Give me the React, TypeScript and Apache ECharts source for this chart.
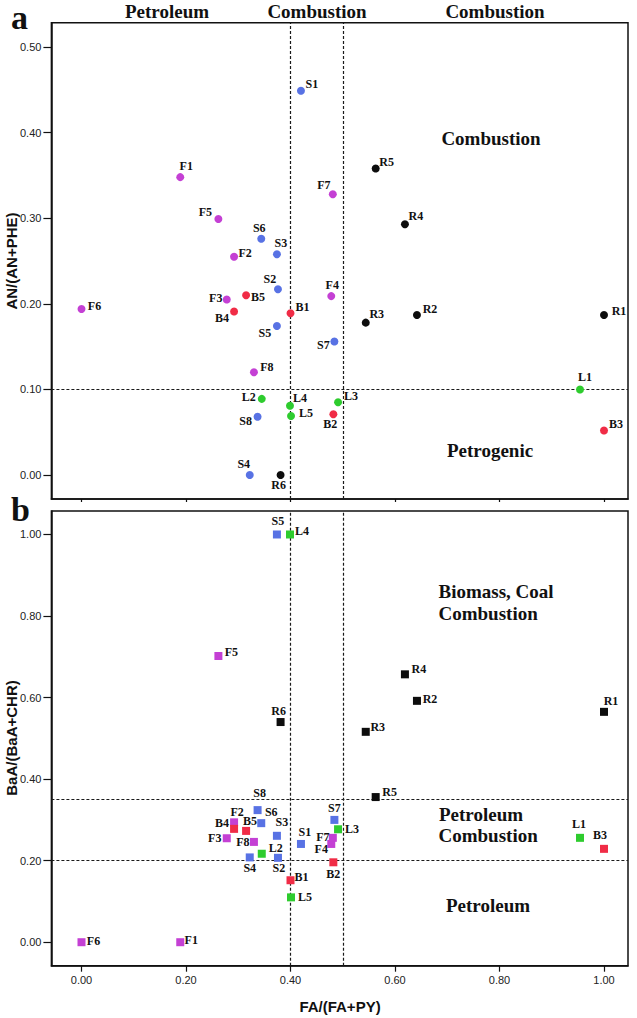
import React, { useEffect, useRef } from 'react';
import * as echarts from 'echarts';

// ---------- data ----------
const sNames = ['S1', 'S2', 'S3', 'S4', 'S5', 'S6', 'S7', 'S8'];
const sFA = [0.42, 0.376, 0.374, 0.322, 0.374, 0.344, 0.484, 0.337];
const sAN = [0.449, 0.217, 0.258, 0.0, 0.174, 0.276, 0.156, 0.068];
const sBaA = [0.241, 0.207, 0.261, 0.208, 1.0, 0.292, 0.3, 0.324];

const fNames = ['F1', 'F2', 'F3', 'F4', 'F5', 'F6', 'F7', 'F8'];
const fFA = [0.189, 0.292, 0.278, 0.478, 0.262, 0.0, 0.481, 0.33];
const fAN = [0.348, 0.255, 0.205, 0.209, 0.299, 0.194, 0.328, 0.12];
const fBaA = [0.0, 0.294, 0.255, 0.241, 0.702, 0.0, 0.256, 0.246];

const bNames = ['B1', 'B2', 'B3', 'B4', 'B5'];
const bFA = [0.4, 0.482, 1.0, 0.292, 0.315];
const bAN = [0.189, 0.071, 0.052, 0.191, 0.21];
const bBaA = [0.152, 0.196, 0.229, 0.278, 0.273];

const rNames = ['R1', 'R2', 'R3', 'R4', 'R5', 'R6'];
const rFA = [1.0, 0.642, 0.544, 0.619, 0.563, 0.381];
const rAN = [0.187, 0.187, 0.178, 0.293, 0.358, 0.0];
const rBaA = [0.565, 0.592, 0.516, 0.657, 0.356, 0.54];

const lNames = ['L1', 'L2', 'L3', 'L4', 'L5'];
const lFA = [0.954, 0.345, 0.491, 0.399, 0.401];
const lAN = [0.1, 0.089, 0.085, 0.081, 0.069];
const lBaA = [0.256, 0.217, 0.277, 1.0, 0.11];

const xTicks = [0, 0.2, 0.4, 0.6, 0.8, 1.0];
const yTicksA = [0, 0.1, 0.2, 0.3, 0.4, 0.5];
const yTicksB = [0, 0.2, 0.4, 0.6, 0.8, 1.0];

const vLines = [0.4, 0.5];
const hLinesA = [0.1];
const hLinesB = [0.35, 0.2];

// ---------- label placement (pixel offsets of label centre from the point) ----------
const labelOffA: Record<string, [number, number]> = {
  S1: [11, -7], S2: [-8, -10], S3: [4, -11], S4: [-6, -11], S5: [-12, 7], S6: [-2, -11], S7: [-11, 4], S8: [-12, 4],
  F1: [6, -11], F2: [11, -4], F3: [-11, -2], F4: [1, -11], F5: [-13, -7], F6: [13, -3], F7: [-9, -9], F8: [13, -5],
  B1: [12, -6], B2: [-3, 10], B3: [12, -7], B4: [-12, 6], B5: [12, 2],
  R1: [15, -4], R2: [13, -6], R3: [11, -9], R4: [11, -8], R5: [11, -7], R6: [-2, 10],
  L1: [5, -12], L2: [-13, -2], L3: [13, -6], L4: [10, -8], L5: [15, -3],
};
const labelOffB: Record<string, [number, number]> = {
  S1: [4, -12], S2: [1, 10], S3: [5, -14], S4: [0, 11], S5: [1, -13], S6: [10, -11], S7: [0, -12], S8: [2, -17],
  F1: [11, -2], F2: [3, -10], F3: [-12, 0], F4: [-10, 5], F5: [13, -4], F6: [12, -1], F7: [-10, -1], F8: [-11, 0],
  B1: [11, -3], B2: [0, 12], B3: [-4, -14], B4: [-12, -6], B5: [4, -10],
  R1: [7, -11], R2: [13, -2], R3: [12, -5], R4: [14, -5], R5: [14, -5], R6: [-2, -11],
  L1: [-1, -14], L2: [14, -6], L3: [14, 0], L4: [12, -3], L5: [14, 0],
};

const COLORS = { S: '#5872e4', F: '#c440d4', B: '#f02c46', R: '#0d0d0d', L: '#2ecc2e' };

// ---------- layout ----------
const GRID_LEFT = 51.4;
const GRID_W = 576.6;
const GRID_A_TOP = 22.7;
const GRID_A_H = 476.3;
const GRID_B_TOP = 511;
const GRID_B_H = 454.7;

const X_MIN = -0.0576;
const X_MAX = 1.0459;
const YA_MIN = -0.028;
const YA_MAX = 0.5284;
const YB_MIN = -0.0576;
const YB_MAX = 1.0576;

const SERIF = '"Liberation Serif", "Times New Roman", serif';
const SANS = '"Liberation Sans", Arial, sans-serif';

export default function App() {
  const ref = useRef<HTMLDivElement>(null);

  useEffect(() => {
    if (!ref.current) return;
    const chart = echarts.init(ref.current, undefined, { renderer: 'svg' });

    const groups = [
      { key: 'S', names: sNames, x: sFA, a: sAN, b: sBaA },
      { key: 'F', names: fNames, x: fFA, a: fAN, b: fBaA },
      { key: 'B', names: bNames, x: bFA, a: bAN, b: bBaA },
      { key: 'R', names: rNames, x: rFA, a: rAN, b: rBaA },
      { key: 'L', names: lNames, x: lFA, a: lAN, b: lBaA },
    ];

    const lineStyle = { color: '#1a1a1a', width: 1.2, type: [3, 2] as any };

    const series: any[] = [];
    [0, 1].forEach((p) => {
      const hl = p === 0 ? hLinesA : hLinesB;
      series.push({
        type: 'scatter',
        xAxisIndex: p,
        yAxisIndex: p,
        data: [],
        silent: true,
        markLine: {
          silent: true,
          symbol: 'none',
          label: { show: false },
          lineStyle,
          emphasis: { disabled: true },
          data: [
            ...vLines.map((v) => ({ xAxis: v })),
            ...hl.map((v) => ({ yAxis: v })),
          ],
        },
        z: 1,
      });
    });

    groups.forEach((g) => {
      [0, 1].forEach((p) => {
        const ys = p === 0 ? g.a : g.b;
        const offs = p === 0 ? labelOffA : labelOffB;
        series.push({
          type: 'scatter',
          xAxisIndex: p,
          yAxisIndex: p,
          symbol: p === 0 ? 'circle' : 'rect',
          symbolSize: 8,
          silent: true,
          itemStyle: { color: (COLORS as any)[g.key], opacity: 1 },
          label: {
            show: true,
            position: 'inside',
            formatter: '{b}',
            fontFamily: SERIF,
            fontWeight: 'bold',
            fontSize: 12,
            color: '#111',
          },
          data: g.names.map((n, i) => ({
            name: n,
            value: [g.x[i], ys[i]],
            label: { offset: offs[n] || [10, 0] },
          })),
          z: 5,
        });
      });
    });

    const fmt = (v: number) => v.toFixed(2);
    const axisLabelBase = { fontFamily: SANS, fontSize: 11, color: '#222' };
    const axisLineBase = { show: true, onZero: false, lineStyle: { color: '#111', width: 1.5 } };

    const txt = (x: number, y: number, text: string, size: number, family: string, align = 'center', extra: any = {}) => ({
      type: 'text',
      x,
      y,
      silent: true,
      ...extra,
      style: {
        text,
        fill: '#111',
        fontFamily: family,
        fontWeight: 'bold',
        fontSize: size,
        align,
        verticalAlign: 'middle',
      },
    });

    const option: any = {
      animation: false,
      backgroundColor: '#fff',
      grid: [
        { left: GRID_LEFT, top: GRID_A_TOP, width: GRID_W, height: GRID_A_H, show: true, borderColor: '#111', borderWidth: 1.5, backgroundColor: 'transparent' },
        { left: GRID_LEFT, top: GRID_B_TOP, width: GRID_W, height: GRID_B_H, show: true, borderColor: '#111', borderWidth: 1.5, backgroundColor: 'transparent' },
      ],
      xAxis: [
        {
          type: 'value', gridIndex: 0, min: X_MIN, max: X_MAX,
          axisLine: axisLineBase,
          axisTick: { show: true, length: 3, customValues: xTicks, lineStyle: { color: '#111', width: 1.2 } },
          axisLabel: { show: false },
          splitLine: { show: false },
        },
        {
          type: 'value', gridIndex: 1, min: X_MIN, max: X_MAX,
          axisLine: axisLineBase,
          axisTick: { show: true, length: 6, customValues: xTicks, lineStyle: { color: '#111', width: 1.2 } },
          axisLabel: { ...axisLabelBase, margin: 9, customValues: xTicks, formatter: fmt },
          splitLine: { show: false },
        },
      ],
      yAxis: [
        {
          type: 'value', gridIndex: 0, min: YA_MIN, max: YA_MAX,
          axisLine: axisLineBase,
          axisTick: { show: true, length: 8, customValues: yTicksA, lineStyle: { color: '#111', width: 1.2 } },
          axisLabel: { ...axisLabelBase, margin: 10, customValues: yTicksA, formatter: fmt },
          splitLine: { show: false },
        },
        {
          type: 'value', gridIndex: 1, min: YB_MIN, max: YB_MAX,
          axisLine: axisLineBase,
          axisTick: { show: true, length: 8, customValues: yTicksB, lineStyle: { color: '#111', width: 1.2 } },
          axisLabel: { ...axisLabelBase, margin: 10, customValues: yTicksB, formatter: fmt },
          splitLine: { show: false },
        },
      ],
      series,
      graphic: [
        txt(11, 17, 'a', 34, SERIF, 'left'),
        txt(11, 509, 'b', 34, SERIF, 'left'),
        txt(167, 11, 'Petroleum', 19, SERIF),
        txt(317, 11, 'Combustion', 19, SERIF),
        txt(495, 11, 'Combustion', 19, SERIF),
        txt(491, 138, 'Combustion', 19, SERIF),
        txt(490, 450, 'Petrogenic', 19, SERIF),
        txt(438.5, 591.7, 'Biomass, Coal', 19, SERIF, 'left'),
        txt(438.5, 613.3, 'Combustion', 19, SERIF, 'left'),
        txt(439, 814, 'Petroleum', 19, SERIF, 'left'),
        txt(438.5, 835, 'Combustion', 19, SERIF, 'left'),
        txt(446, 905, 'Petroleum', 19, SERIF, 'left'),
        txt(11, 261, 'AN/(AN+PHE)', 15, SANS, 'center', { rotation: Math.PI / 2 }),
        txt(11, 738, 'BaA/(BaA+CHR)', 15, SANS, 'center', { rotation: Math.PI / 2 }),
        txt(340, 1006, 'FA/(FA+PY)', 15, SANS),
      ],
    };

    chart.setOption(option);
    return () => chart.dispose();
  }, []);

  return (
    <div
      ref={ref}
      style={{ position: 'absolute', left: 0, top: 0, width: 637, height: 1018, background: '#fff' }}
    />
  );
}
